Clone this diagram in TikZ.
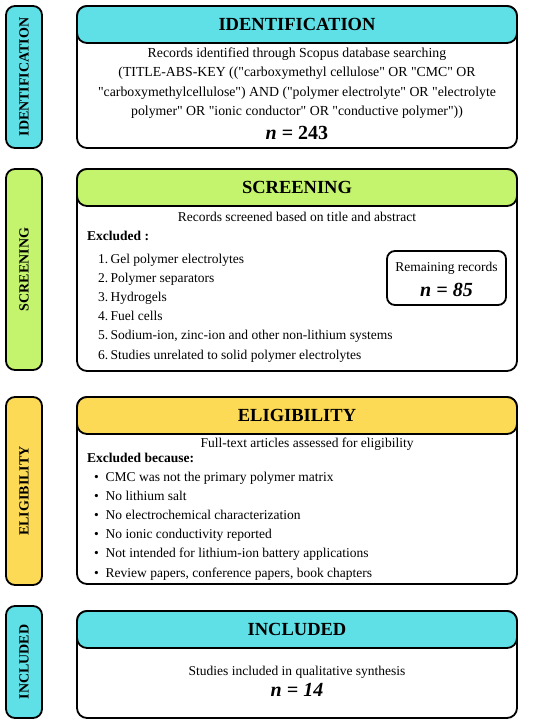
\documentclass[tikz,border=0pt]{standalone}
\usepackage{fontspec}
\defaultfontfeatures[\rmfamily]{}
\setmainfont{Liberation Serif}
\usepackage{tikz}
\usetikzlibrary{positioning}

\definecolor{idcyan}{HTML}{5EE0E6}
\definecolor{scrgreen}{HTML}{C4F46E}
\definecolor{eliyellow}{HTML}{FCDA55}

\begin{document}
\begin{tikzpicture}[x=1pt, y=-1pt,
	sidebox/.style={draw=black, line width=1.8pt, rounded corners=9pt, rotate=90, minimum height=36pt, inner sep=0pt, font=\fontsize{14}{16}\selectfont\bfseries},
	mainbox/.style={draw=black, line width=1.8pt, fill=white, rounded corners=10pt, minimum width=440pt, inner sep=0pt},
	headbox/.style={draw=black, line width=1.8pt, rounded corners=10pt, minimum width=440pt, minimum height=37pt, inner sep=0pt, font=\fontsize{18.5}{20}\selectfont\bfseries},
	bodytext/.style={inner sep=0pt, font=\fontsize{13.5}{19.1}\selectfont},
	count/.style={inner sep=0pt, font=\fontsize{20}{22}\selectfont\bfseries}]
	\useasboundingbox (0,0) rectangle (550,724);

	% identification
	\node [sidebox, fill=idcyan, minimum width=142pt] (idside) at (24, 77) {IDENTIFICATION};
	\node [mainbox, minimum height=142pt] (idbox) at (297, 77) {};
	\node [headbox, fill=idcyan] (idhead) at (297, 24.5) {IDENTIFICATION};
	\node [bodytext, align=center, font=\fontsize{13.8}{19.3}\selectfont] (idtext) at (297, 83) {Records identified through Scopus database searching\\
		(TITLE-ABS-KEY (("carboxymethyl cellulose" OR "CMC" OR\\
		"carboxymethylcellulose") AND ("polymer electrolyte" OR "electrolyte\\
		polymer" OR "ionic conductor" OR "conductive polymer"))};
	\node [count] (idn) at (297, 133) {\textit{n} = 243};

	% screening
	\node [sidebox, fill=scrgreen, minimum width=201pt] (scrside) at (24, 269.5) {SCREENING};
	\node [mainbox, minimum height=202pt] (scrbox) at (297, 270) {};
	\node [headbox, fill=scrgreen] (scrhead) at (297, 187.5) {SCREENING};
	\node [bodytext] (scrtext) at (297, 217) {Records screened based on title and abstract};
	\node [bodytext, anchor=west] (screxcl) at (87, 236) {\bfseries Excluded :};
	\node [bodytext, anchor=north west, align=left] (scrlist) at (98, 254) {1.\,Gel polymer electrolytes\\
		2.\,Polymer separators\\
		3.\,Hydrogels\\
		4.\,Fuel cells\\
		5.\,Sodium-ion, zinc-ion and other non-lithium systems\\
		6.\,Studies unrelated to solid polymer electrolytes};
	\node [draw=black, line width=1.8pt, rounded corners=8pt, minimum width=119pt, minimum height=54pt] (remain) at (446.5, 278) {};
	\node [bodytext] (remtext) at (446.5, 268) {Remaining records};
	\node [count] (remn) at (446.5, 290) {\itshape n = 85};

	% eligibility
	\node [sidebox, fill=eliyellow, minimum width=188pt] (eliside) at (24, 491) {ELIGIBILITY};
	\node [mainbox, minimum height=187pt] (elibox) at (297, 490.5) {};
	\node [headbox, fill=eliyellow] (elihead) at (297, 415.5) {ELIGIBILITY};
	\node [bodytext] (elitext) at (307, 444) {Full-text articles assessed for eligibility};
	\node [bodytext, anchor=west] (eliexcl) at (87, 458) {\bfseries Excluded because:};
	\node [bodytext, anchor=north west, align=left] (elilist) at (94, 472) {\textbullet\enspace CMC was not the primary polymer matrix\\
		\textbullet\enspace No lithium salt\\
		\textbullet\enspace No electrochemical characterization\\
		\textbullet\enspace No ionic conductivity reported\\
		\textbullet\enspace Not intended for lithium-ion battery applications\\
		\textbullet\enspace Review papers, conference papers, book chapters};

	% included
	\node [sidebox, fill=idcyan, minimum width=112pt] (incside) at (24, 662) {INCLUDED};
	\node [mainbox, minimum height=107pt] (incbox) at (297, 664.5) {};
	\node [headbox, fill=idcyan] (inchead) at (297, 629.5) {INCLUDED};
	\node [bodytext] (inctext) at (297, 672) {Studies included in qualitative synthesis};
	\node [count] (incn) at (297, 690) {\itshape n = 14};
\end{tikzpicture}
\end{document}
